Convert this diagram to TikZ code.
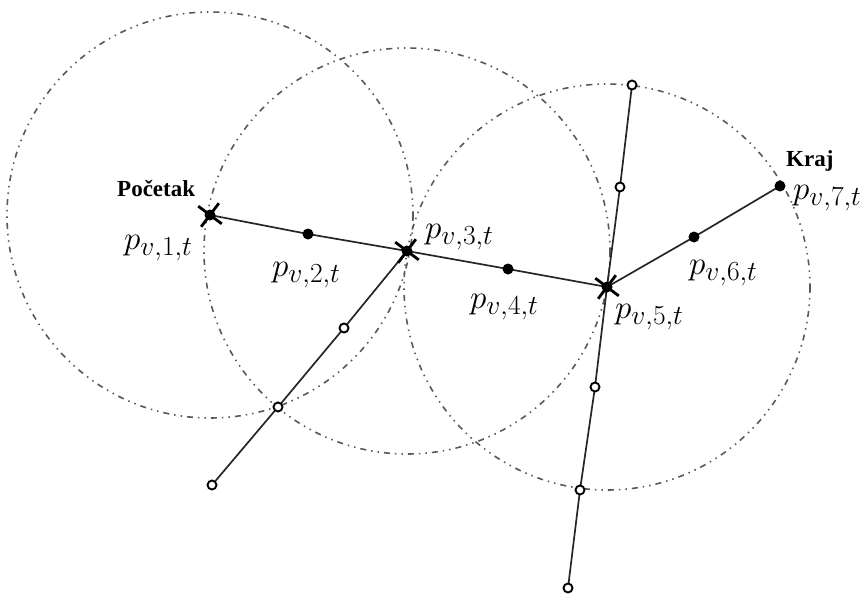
\documentclass[tikz,border=0pt]{standalone}
\usepackage{fontspec}
\newfontfamily\tnr{Liberation Serif}
\usetikzlibrary{shapes.misc}
\newcommand{\plab}[1]{\scalebox{1.33}{\Huge $p_{v,#1,t}$}}
\tikzset{
  ring/.style={dash pattern=on 6pt off 5pt on 1.5pt off 5pt on 1.5pt off 5pt, line width=1.6pt, draw=black!65},
  seg/.style={line width=1.7pt, black!85},
  opendot/.style={circle, draw, line width=1.9pt, fill=white, inner sep=0pt, minimum size=9pt},
  filldot/.style={circle, fill, inner sep=0pt, minimum size=11pt},
  xmark/.style={cross out, draw, line width=2.8pt, inner sep=0pt, minimum size=18pt},
  lab/.style={inner sep=0pt, anchor=base west},
  word/.style={inner sep=0pt, anchor=base west, font=\tnr\bfseries\fontsize{23}{26}\selectfont},
}
\begin{document}
\begin{tikzpicture}[x=1pt,y=-1pt]
\useasboundingbox (0,0) rectangle (860,597);
% circles
\draw[ring] (210,215) circle (203);
\draw[ring] (407,251) circle (203);
\draw[ring] (607,287) circle (203);
% coordinates
\coordinate (p1) at (210,215);
\coordinate (p2) at (308,234);
\coordinate (p3) at (407,251);
\coordinate (p4) at (508,269);
\coordinate (p5) at (607,287);
\coordinate (p6) at (694,237);
\coordinate (p7) at (780,186);
\coordinate (a1) at (212,485);
\coordinate (a2) at (278,407);
\coordinate (a3) at (344,328);
\coordinate (b1) at (632,85);
\coordinate (b2) at (620,187);
\coordinate (b3) at (595,387);
\coordinate (b4) at (580,490);
\coordinate (b5) at (568,588);
% connectors
\draw[seg] (p1) -- (p2) -- (p3) -- (p4) -- (p5) -- (p6) -- (p7);
\draw[seg] (a1) -- (a2) -- (a3) -- (p3);
\draw[seg] (b1) -- (b2) -- (p5) -- (b3) -- (b4) -- (b5);
% markers
\node[xmark, rotate=8] (x1) at (p1) {};
\node[xmark, rotate=8] (x3) at (p3) {};
\node[xmark, rotate=8] (x5) at (p5) {};
\node[filldot] (d1) at (p1) {};
\node[filldot] (d2) at (p2) {};
\node[filldot] (d3) at (p3) {};
\node[filldot] (d4) at (p4) {};
\node[filldot] (d5) at (p5) {};
\node[filldot] (d6) at (p6) {};
\node[filldot] (d7) at (p7) {};
\foreach \n in {a1,a2,a3,b1,b2,b3,b4,b5} \node[opendot] (o\n) at (\n) {};
% labels
\node[word] (start) at (117,196) {Početak};
\node[word] (end) at (786,166) {Kraj};
\node[lab] (l1) at (124,249) {\plab{1}};
\node[lab] (l2) at (272,276) {\plab{2}};
\node[lab] (l3) at (425,238) {\plab{3}};
\node[lab] (l4) at (470,308) {\plab{4}};
\node[lab] (l5) at (615,318) {\plab{5}};
\node[lab] (l6) at (689,274) {\plab{6}};
\node[lab] (l7) at (793,199) {\plab{7}};
\end{tikzpicture}
\end{document}
